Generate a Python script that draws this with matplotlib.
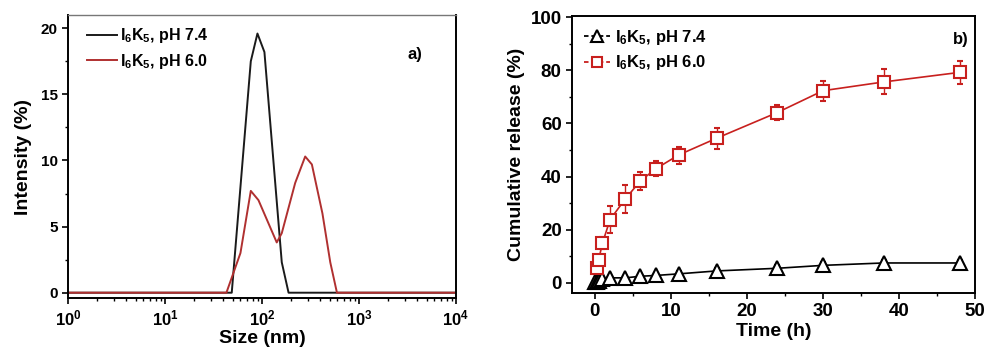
import matplotlib
matplotlib.use("Agg")
import matplotlib.pyplot as plt
import numpy as np
from matplotlib.lines import Line2D
from matplotlib.ticker import FixedLocator, LogLocator, NullFormatter, MultipleLocator

plt.rcParams['font.family'] = ['Liberation Sans', 'DejaVu Sans']
plt.rcParams['font.weight'] = 'bold'
plt.rcParams['mathtext.fontset'] = 'custom'
plt.rcParams['mathtext.rm'] = 'Liberation Sans:bold'
plt.rcParams['mathtext.bf'] = 'Liberation Sans:bold'
plt.rcParams['mathtext.it'] = 'Liberation Sans:bold'
plt.rcParams['mathtext.default'] = 'rm'

# ---- Panel a: DLS size distribution ----
size_74 = [1, 48.8, 76.7, 89.8, 106, 160, 188, 10000]
int_74 = [0, 0, 17.5, 19.6, 18.2, 2.3, 0, 0]
size_60 = [1, 43, 60, 76.7, 92, 142, 160, 220, 279, 327, 420, 506, 593, 10000]
int_60 = [0, 0, 3.0, 7.7, 7.0, 3.8, 4.5, 8.3, 10.3, 9.7, 6.0, 2.3, 0, 0]
label_74 = r'I$_6$K$_5$, pH 7.4'
label_60 = r'I$_6$K$_5$, pH 6.0'
xtick_vals = [1, 10, 100, 1000, 10000]
xtick_labels = [r'10$^0$', r'10$^1$', r'10$^2$', r'10$^3$', r'10$^4$']

# ---- Panel b: cumulative release ----
t_74 = [0, 0.25, 0.5, 1, 2, 4, 6, 8, 11, 16, 24, 30, 38, 48]
rel_74 = [0.2, 0.5, 0.8, 1.3, 1.9, 1.9, 2.5, 2.8, 3.4, 4.5, 5.5, 6.6, 7.5, 7.5]
err_74 = [0.5, 0.5, 0.6, 0.8, 0.8, 0.8, 0.8, 0.8, 0.9, 1.0, 1.1, 1.2, 1.2, 1.0]
t_60 = [0.25, 0.5, 1, 2, 4, 6, 8, 11, 16, 24, 30, 38, 48]
rel_60 = [5.6, 8.7, 15.0, 23.8, 31.6, 38.4, 42.9, 48.1, 54.4, 64.1, 72.3, 75.6, 79.2]
err_60 = [1.5, 1.8, 2.2, 5.0, 5.3, 3.5, 2.8, 3.2, 4.0, 3.0, 3.7, 4.7, 4.2]

dark_red = '#b03030'
red = '#c8201e'

fig = plt.figure(figsize=(9.88, 3.54), dpi=100)

ax1 = fig.add_axes([0.0688, 0.1582, 0.3927, 0.7994])
ax1.plot(size_74, int_74, color='#1a1a1a', lw=1.4, label=label_74)
ax1.plot(size_60, int_60, color=dark_red, lw=1.4, label=label_60)
ax1.set_xscale('log')
ax1.set_xlim(1, 1e4)
ax1.set_ylim(-0.4, 21)
ax1.xaxis.set_major_locator(FixedLocator(xtick_vals))
ax1.set_xticklabels(xtick_labels, fontsize=12)
ax1.xaxis.set_minor_locator(LogLocator(base=10, subs=np.arange(2, 10), numticks=20))
ax1.xaxis.set_minor_formatter(NullFormatter())
ax1.set_yticks([0, 5, 10, 15, 20])
ax1.yaxis.set_minor_locator(MultipleLocator(2.5))
ax1.tick_params(axis='y', which='major', labelsize=11)
ax1.tick_params(axis='both', which='major', direction='out', length=4, width=1.2)
ax1.tick_params(axis='both', which='minor', direction='out', length=2.5, width=1.0)
ax1.set_xlabel('Size (nm)', fontsize=14, fontweight='bold', labelpad=1)
ax1.set_ylabel('Intensity (%)', fontsize=14, fontweight='bold', labelpad=6)
for s in ax1.spines.values():
    s.set_linewidth(1.4)
ax1.spines['top'].set_color('#777777')
ax1.spines['top'].set_linewidth(1.0)
ax1.legend(loc='upper left', frameon=False, fontsize=11.5, handlelength=1.9,
           handletextpad=0.2, borderaxespad=0.3, labelspacing=0.4,
           bbox_to_anchor=(0.02, 1.0))
ax1.text(0.895, 0.86, 'a)', transform=ax1.transAxes, fontsize=12, fontweight='bold',
         ha='center', va='center')

ax2 = fig.add_axes([0.579, 0.1723, 0.4079, 0.7825])
ax2.errorbar(t_74, rel_74, yerr=err_74, color='black', marker='^', ms=10, mfc='white',
             mec='black', mew=1.5, lw=1.2, capsize=2.5, elinewidth=1.0)
ax2.errorbar(t_60, rel_60, yerr=err_60, color=red, marker='s', ms=8.5, mfc='white',
             mec=red, mew=1.5, lw=1.2, capsize=2.5, elinewidth=1.0)
ax2.set_xlim(-3, 50)
ax2.set_ylim(-3.8, 100.4)
ax2.set_xticks([0, 10, 20, 30, 40, 50])
ax2.set_yticks([0, 20, 40, 60, 80, 100])
ax2.xaxis.set_minor_locator(MultipleLocator(5))
ax2.yaxis.set_minor_locator(MultipleLocator(10))
ax2.tick_params(axis='both', which='major', direction='out', length=4, width=1.2, labelsize=13.5)
ax2.tick_params(axis='both', which='minor', direction='out', length=2.5, width=1.0)
ax2.set_xlabel('Time (h)', fontsize=14, fontweight='bold', labelpad=2)
ax2.set_ylabel('Cumulative release (%)', fontsize=14, fontweight='bold', labelpad=4)
for s in ax2.spines.values():
    s.set_linewidth(1.4)
h74 = Line2D([], [], color='black', marker='^', ms=9, mfc='white', mec='black', mew=1.5,
             lw=1.3, ls=(0, (2.5, 1.6)))
h60 = Line2D([], [], color=red, marker='s', ms=7.5, mfc='white', mec=red, mew=1.5,
             lw=1.3, ls=(0, (2.5, 1.6)))
ax2.legend([h74, h60], [label_74, label_60], loc='upper left', frameon=False, fontsize=12,
           handlelength=1.6, handletextpad=0.3, borderaxespad=0.3, labelspacing=0.4,
           bbox_to_anchor=(0.0, 1.0))
ax2.text(0.965, 0.915, 'b)', transform=ax2.transAxes, fontsize=12, fontweight='bold',
         ha='center', va='center')

fig.savefig('out.png', dpi=100)
